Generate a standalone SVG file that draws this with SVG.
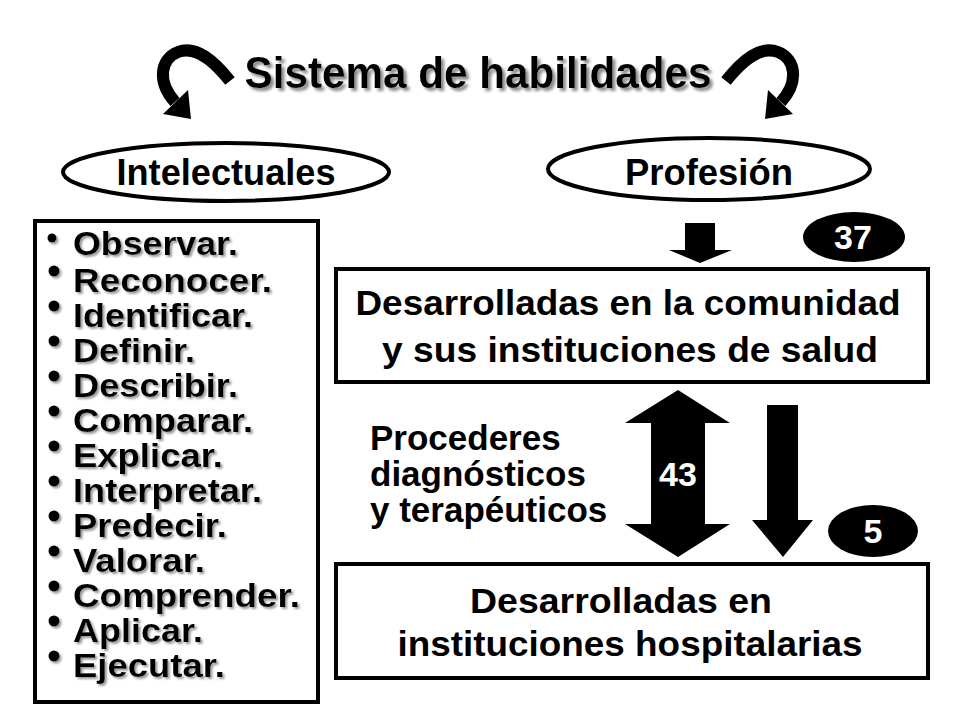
<svg xmlns="http://www.w3.org/2000/svg" width="960" height="720" viewBox="0 0 960 720">
<defs>
<filter id="sh" x="-5%" y="-20%" width="115%" height="160%">
<feDropShadow dx="3" dy="3" stdDeviation="1.5" flood-color="#8a8a8a"/>
</filter>
<filter id="sh2" x="-5%" y="-20%" width="115%" height="160%">
<feDropShadow dx="2" dy="2" stdDeviation="1.2" flood-color="#9a9a9a"/>
</filter>
<g id="curl">
<path d="M230 81 C214 61 196 45 178 52 C160 59 157 82 175 102" fill="none" stroke="#000" stroke-width="12"/>
<polygon points="163,114 188,90 191,119"/>
</g>
</defs>
<style>
text{font-family:"Liberation Sans",Arial,sans-serif;font-weight:bold;fill:#000}
.lst{font-size:33px}
.box{fill:#fff;stroke:#000;stroke-width:4}
.ell{fill:#fff;stroke:#000;stroke-width:4}
.big{font-size:35px}
.wt{fill:#fff;font-size:34px}
</style>
<rect width="960" height="720" fill="#fff"/>

<g id="title">
<text x="478" y="88" font-size="44" text-anchor="middle" textLength="467" lengthAdjust="spacingAndGlyphs" filter="url(#sh)">Sistema de habilidades</text>
</g>

<g id="connectors">
<use href="#curl"/>
<use href="#curl" transform="translate(956,0) scale(-1,1)"/>
<polygon points="685,223 715,223 715,250 732,250 700,263 669,250 685,250"/>
<polygon points="678,390 730,423 705,423 705,524 730,524 678,557 625,524 651,524 651,423 625,423"/>
<polygon points="767,405 798,405 798,520 813,520 783,557 752,520 767,520"/>
</g>

<g id="intelectuales">
<ellipse class="ell" cx="226" cy="172" rx="163" ry="29"/>
<text x="226" y="185" font-size="37" text-anchor="middle" textLength="219" lengthAdjust="spacingAndGlyphs">Intelectuales</text>
</g>

<g id="profesion">
<ellipse class="ell" cx="709" cy="169" rx="161" ry="31"/>
<text x="709" y="185" font-size="37" text-anchor="middle" textLength="168" lengthAdjust="spacingAndGlyphs">Profesión</text>
</g>

<g id="skills-list">
<rect class="box" x="35" y="221" width="283" height="481"/>
<g filter="url(#sh2)">
<circle cx="52" cy="238" r="4.5"/>
<circle cx="54" cy="271" r="5.5"/>
<circle cx="54" cy="306" r="5.5"/>
<circle cx="54" cy="341" r="5.5"/>
<circle cx="54" cy="376" r="5.5"/>
<circle cx="54" cy="411" r="5.5"/>
<circle cx="54" cy="446" r="5.5"/>
<circle cx="54" cy="481" r="5.5"/>
<circle cx="54" cy="516" r="5.5"/>
<circle cx="54" cy="551" r="5.5"/>
<circle cx="54" cy="586" r="5.5"/>
<circle cx="54" cy="621" r="5.5"/>
<circle cx="54" cy="656" r="5.5"/>
<text class="lst" x="73" y="255" textLength="165" lengthAdjust="spacingAndGlyphs">Observar.</text>
<text class="lst" x="73" y="292" textLength="199" lengthAdjust="spacingAndGlyphs">Reconocer.</text>
<text class="lst" x="73" y="327" textLength="180" lengthAdjust="spacingAndGlyphs">Identificar.</text>
<text class="lst" x="73" y="362" textLength="122" lengthAdjust="spacingAndGlyphs">Definir.</text>
<text class="lst" x="73" y="397" textLength="165" lengthAdjust="spacingAndGlyphs">Describir.</text>
<text class="lst" x="73" y="432" textLength="180" lengthAdjust="spacingAndGlyphs">Comparar.</text>
<text class="lst" x="73" y="467" textLength="150" lengthAdjust="spacingAndGlyphs">Explicar.</text>
<text class="lst" x="73" y="502" textLength="189" lengthAdjust="spacingAndGlyphs">Interpretar.</text>
<text class="lst" x="73" y="537" textLength="154" lengthAdjust="spacingAndGlyphs">Predecir.</text>
<text class="lst" x="73" y="572" textLength="132" lengthAdjust="spacingAndGlyphs">Valorar.</text>
<text class="lst" x="73" y="607" textLength="227" lengthAdjust="spacingAndGlyphs">Comprender.</text>
<text class="lst" x="73" y="642" textLength="130" lengthAdjust="spacingAndGlyphs">Aplicar.</text>
<text class="lst" x="73" y="677" textLength="152" lengthAdjust="spacingAndGlyphs">Ejecutar.</text>
</g>
</g>

<g id="box-comunidad">
<rect class="box" x="336" y="269" width="592" height="113"/>
<text class="big" x="628" y="315" text-anchor="middle" textLength="545" lengthAdjust="spacingAndGlyphs">Desarrolladas en la comunidad</text>
<text class="big" x="630" y="362" text-anchor="middle" textLength="496" lengthAdjust="spacingAndGlyphs">y sus instituciones de salud</text>
</g>

<g id="box-hospital">
<rect class="box" x="336" y="564" width="592" height="114"/>
<text class="big" x="621" y="613" text-anchor="middle" textLength="302" lengthAdjust="spacingAndGlyphs">Desarrolladas en</text>
<text class="big" x="630" y="656" text-anchor="middle" textLength="465" lengthAdjust="spacingAndGlyphs">instituciones hospitalarias</text>
</g>

<g id="label-procederes">
<text class="big" x="370" y="450">Procederes</text>
<text class="big" x="370" y="486">diagnósticos</text>
<text class="big" x="370" y="522">y terapéuticos</text>
</g>

<g id="label-43">
<text class="wt" x="678" y="486" text-anchor="middle">43</text>
</g>

<g id="badge-37">
<ellipse cx="854" cy="237" rx="51" ry="25"/>
<text class="wt" x="853" y="249" text-anchor="middle">37</text>
</g>

<g id="badge-5">
<ellipse cx="873" cy="531" rx="45" ry="26"/>
<text class="wt" x="873" y="543" text-anchor="middle">5</text>
</g>
</svg>
